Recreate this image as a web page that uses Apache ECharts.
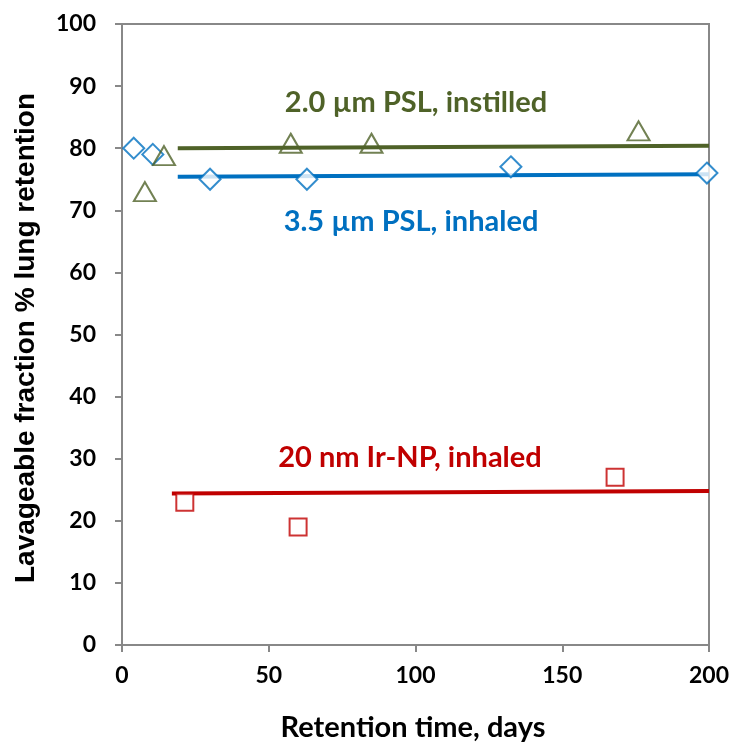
<!DOCTYPE html>
<html><head><meta charset="utf-8">
<script src="https://cdn.jsdelivr.net/npm/echarts@6/dist/echarts.min.js"></script>
<style>html,body{margin:0;padding:0;background:#fff}#c{width:737px;height:747px}</style>
</head><body><div id="c"></div>
<script>
const pslInhaledX = [4, 10.5, 30, 63, 132.5, 199.3];
const pslInhaledY = [80, 79, 75, 75, 77, 76];
const pslInstilledX = [7.8, 14.3, 57.5, 85, 176];
const pslInstilledY = [73, 78.8, 80.8, 80.8, 82.8];
const irX = [21.4, 60, 168];
const irY = [23, 19, 27];
const fitInstilled = [[19, 80.0], [200, 80.4]];
const fitInhaled = [[19, 75.4], [200, 75.8]];
const fitIr = [[17, 24.4], [200, 24.8]];
const labels = ['2.0 µm PSL, instilled', '3.5 µm PSL, inhaled', '20 nm Ir-NP, inhaled'];
const xTitle = 'Retention time, days';
const yTitle = 'Lavageable fraction % lung retention';

const GREEN = '#4F6228', BLUE = '#0070C0', RED = '#C00000';
const zip = (a, b) => a.map((v, i) => [v, b[i]]);
const font = 'Lato, "Open Sans", sans-serif';
const chart = echarts.init(document.getElementById('c'));
const axisCommon = {
  axisLine: {show: true, lineStyle: {color: '#888', width: 2}},
  axisTick: {show: true, inside: false, length: 7, lineStyle: {color: '#888', width: 2}},
  splitLine: {show: false},
  axisLabel: {color: '#000', fontSize: 23, fontWeight: 'bold', fontFamily: font}
};
chart.setOption({
  animation: false,
  grid: {left: 122, right: 28, top: 24, bottom: 102, show: true, borderColor: '#888', borderWidth: 2, backgroundColor: 'transparent'},
  xAxis: Object.assign({}, axisCommon, {type: 'value', min: 0, max: 200, interval: 50,
    axisLabel: Object.assign({}, axisCommon.axisLabel, {margin: 19})}),
  yAxis: Object.assign({}, axisCommon, {type: 'value', min: 0, max: 100, interval: 10,
    axisLabel: Object.assign({}, axisCommon.axisLabel, {margin: 26})}),
  series: [
    {type: 'line', data: fitInstilled, symbol: 'none', lineStyle: {color: GREEN, width: 4}, z: 1},
    {type: 'line', data: fitInhaled, symbol: 'none', lineStyle: {color: BLUE, width: 4}, z: 1},
    {type: 'line', data: fitIr, symbol: 'none', lineStyle: {color: RED, width: 4}, z: 1},
    {type: 'scatter', data: zip(pslInhaledX, pslInhaledY), z: 3, symbol: 'path://M0,-1 L1,0 L0,1 L-1,0 Z', symbolSize: 21,
      itemStyle: {color: '#fff', borderColor: BLUE, borderWidth: 2}},
    {type: 'scatter', data: zip(pslInstilledX, pslInstilledY), z: 3, symbol: 'triangle', symbolSize: [22, 19],
      itemStyle: {color: 'rgba(255,255,255,0)', borderColor: GREEN, borderWidth: 2}},
    {type: 'scatter', data: zip(irX, irY), z: 3, symbol: 'rect', symbolSize: 17,
      itemStyle: {color: '#fff', borderColor: RED, borderWidth: 2}}
  ],
  graphic: [
    {type: 'text', x: 416, y: 103, style: {text: labels[0], fill: GREEN, font: 'bold 29px ' + font, textAlign: 'center', textVerticalAlign: 'middle'}},
    {type: 'text', x: 411, y: 222, style: {text: labels[1], fill: BLUE, font: 'bold 29px ' + font, textAlign: 'center', textVerticalAlign: 'middle'}},
    {type: 'text', x: 410, y: 458, style: {text: labels[2], fill: RED, font: 'bold 29px ' + font, textAlign: 'center', textVerticalAlign: 'middle'}},
    {type: 'text', x: 413, y: 728, style: {text: xTitle, fill: '#000', font: 'bold 29px ' + font, textAlign: 'center', textVerticalAlign: 'middle'}},
    {type: 'text', x: 26, y: 338, rotation: Math.PI / 2, style: {text: yTitle, fill: '#000', font: 'bold 28px "Liberation Sans", Arial, sans-serif', textAlign: 'center', textVerticalAlign: 'middle'}}
  ]
});
</script></body></html>
